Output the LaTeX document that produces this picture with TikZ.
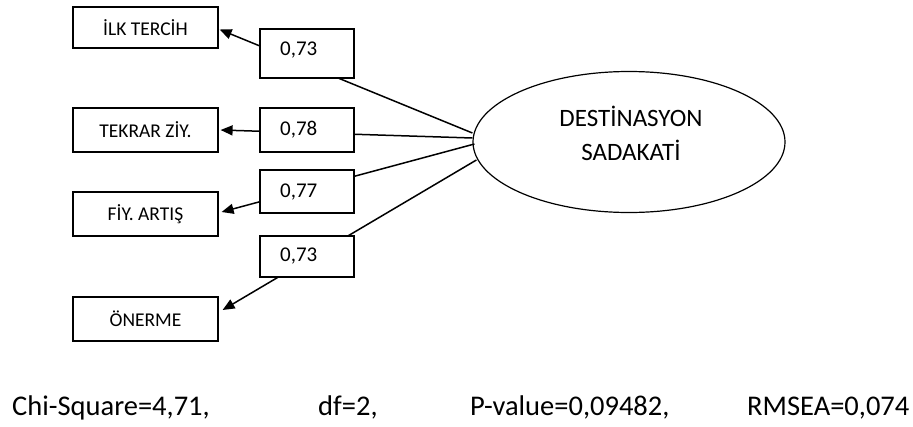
\documentclass[tikz,border=0pt]{standalone}
\usepackage{fontspec}
\setmainfont{Carlito}
\usetikzlibrary{shapes.geometric,arrows.meta}
\begin{document}
\begin{tikzpicture}[x=1pt,y=-1pt,
  item/.style={draw,line width=1.2pt,minimum width=145pt,inner sep=0pt,
    font=\fontsize{19.5}{21}\selectfont},
  loadbox/.style={draw,fill=white,line width=1.2pt,minimum width=94pt,inner sep=0pt},
  loadval/.style={anchor=base west,inner sep=0pt,font=\fontsize{21}{22}\selectfont},
  loadarrow/.style={line width=1.5pt,-{Triangle[length=12pt,width=10pt]}},
  stat/.style={anchor=base west,inner sep=0pt,font=\fontsize{28.5}{30}\selectfont}]
\useasboundingbox (0,0) rectangle (913,426);

% latent construct
\node[draw,ellipse,line width=1.2pt,minimum width=312pt,minimum height=141pt,
  inner sep=0pt] (lat) at (629,142) {};
\node[align=center,inner sep=0pt,font=\fontsize{25}{34}\selectfont]
  (latname) at (631,133) {DESTİNASYON\\SADAKATİ};

% observed indicators
\node[item,minimum height=41pt] (ilk)    at (145.5,27.5) {İLK TERCİH};
\node[item,minimum height=44pt] (tekrar) at (145.5,130)  {TEKRAR ZİY.};
\node[item,minimum height=44pt] (fiy)    at (145.5,214)  {FİY. ARTIŞ};
\node[item,minimum height=44pt] (oner)   at (145.5,319)  {ÖNERME};

% start points on the ellipse
\coordinate (e1) at ([yshift=9pt]lat.west);
\coordinate (e2) at ([yshift=4pt]lat.west);
\coordinate (e3) at ([xshift=2pt,yshift=-2pt]lat.west);
\coordinate (e4) at ([xshift=4pt,yshift=-18pt]lat.west);

% loading paths
\draw[loadarrow] (e1) -- ([xshift=1pt,yshift=-2pt]ilk.east);
\draw[loadarrow] (e2) -- ([xshift=2pt]tekrar.east);
\draw[loadarrow] (e3) -- ([xshift=3pt,yshift=2pt]fiy.east);
\draw[loadarrow] (e4) -- ([xshift=4pt,yshift=9pt]oner.east);

% loading values
\node[loadbox,minimum height=49pt] (b1) at (307,53.5)  {};
\node[loadbox,minimum height=44pt] (b2) at (307,130)   {};
\node[loadbox,minimum height=43pt] (b3) at (307,191.5) {};
\node[loadbox,minimum height=41pt] (b4) at (307,256.5) {};
\node[loadval] (v1) at (280,55)  {0,73};
\node[loadval] (v2) at (280,135) {0,78};
\node[loadval] (v3) at (280,197) {0,77};
\node[loadval] (v4) at (280,261) {0,73};

% fit statistics
\node[stat] (chi)   at (12,415)  {Chi-Square=4,71,};
\node[stat] (df)    at (318,415) {df=2,};
\node[stat] (pval)  at (470,415) {P-value=0,09482,};
\node[stat] (rmsea) at (747,415) {RMSEA=0,074};
\end{tikzpicture}
\end{document}
